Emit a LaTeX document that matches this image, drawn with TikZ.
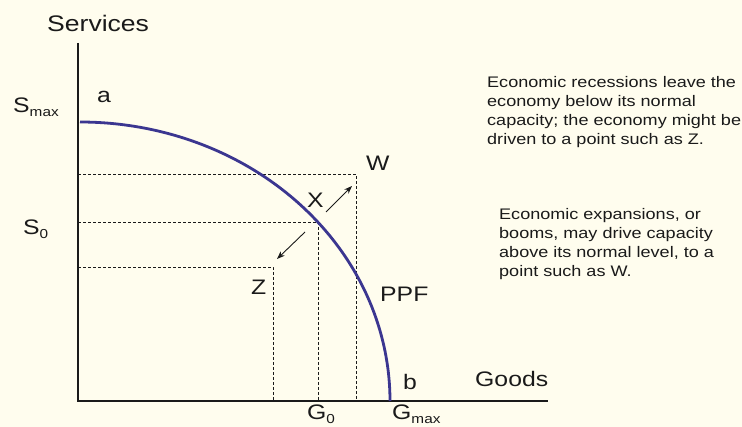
\documentclass[tikz,border=0pt]{standalone}
\usepackage{fontspec}
\setmainfont[FakeStretch=1.18]{Liberation Sans}
\usetikzlibrary{arrows.meta}
\definecolor{bgc}{HTML}{FFFDEE}
\definecolor{ink}{HTML}{1A1A1A}
\definecolor{ppfc}{HTML}{3B3690}
\begin{document}
\begin{tikzpicture}[x=1pt,y=-1pt,
  lab/.style={inner sep=0pt,anchor=base west,text=ink,font=\fontsize{21}{21}\selectfont},
  body/.style={inner sep=0pt,anchor=base west,align=left,text=ink,font=\fontsize{15.3}{19.3}\selectfont},
  axis/.style={line width=1.6pt,draw=ink},
  guide/.style={line width=0.6pt,draw=ink,dash pattern=on 3pt off 2pt},
  move/.style={line width=0.9pt,draw=ink,-{Stealth[length=8pt,width=6pt]}},
  ppf/.style={line width=2.8pt,draw=ppfc}]
\fill[bgc] (0,0) rectangle (742,427);
\useasboundingbox (0,0) rectangle (742,427);
% axes
\coordinate (O) at (78,401);
\coordinate (ytop) at (78,43);
\coordinate (xend) at (548,401);
\draw[axis] (ytop) -- (O) -- (xend);
% points
\coordinate (X) at (318,222);
\coordinate (W) at (356,174);
\coordinate (Z) at (273,267);
\draw[guide] (O |- W) -- (W) -- (W |- O);
\draw[guide] (O |- X) -- (X) -- (X |- O);
\draw[guide] (O |- Z) -- (Z) -- (Z |- O);
% PPF
\draw[ppf] plot[domain=0:90,samples=90,smooth] ({80+310*sin(\x)},{401-279*cos(\x)});
% movement arrows
\coordinate (xw0) at (326,212);
\coordinate (xw1) at (352,186);
\coordinate (xz0) at (305,232);
\coordinate (xz1) at (277,259);
\draw[move] (xw0) -- (xw1);
\draw[move] (xz0) -- (xz1);
% labels
\node[lab,font=\fontsize{22.5}{22.5}\selectfont] (services) at (47,32) {Services};
\node[lab] (goods) at (475,387) {Goods};
\node[lab] (la) at (97,103) {a};
\node[lab] (lb) at (403,390) {b};
\node[lab] (smax) at (13,113) {S\raisebox{-4pt}{\fontsize{13}{13}\selectfont max}};
\node[lab] (s0) at (23,235) {S\raisebox{-4pt}{\fontsize{13}{13}\selectfont 0}};
\node[lab] (g0) at (307,420) {G\raisebox{-3.5pt}{\fontsize{13}{13}\selectfont 0}};
\node[lab] (gmax) at (392,420) {G\raisebox{-3.5pt}{\fontsize{13}{13}\selectfont max}};
\node[lab] (lw) at (366,171) {W};
\node[lab] (lx) at (307,208) {X};
\node[lab] (lz) at (251,295) {Z};
\node[lab] (lppf) at (380,302) {PPF};
% explanations (base anchor = baseline of last line)
\node[body] (rec) at (487,145) {Economic recessions leave the\\economy below its normal\\capacity; the economy might be\\driven to a point such as Z.};
\node[body] (exp) at (499,277) {Economic expansions, or\\booms, may drive capacity\\above its normal level, to a\\point such as W.};
\end{tikzpicture}
\end{document}
